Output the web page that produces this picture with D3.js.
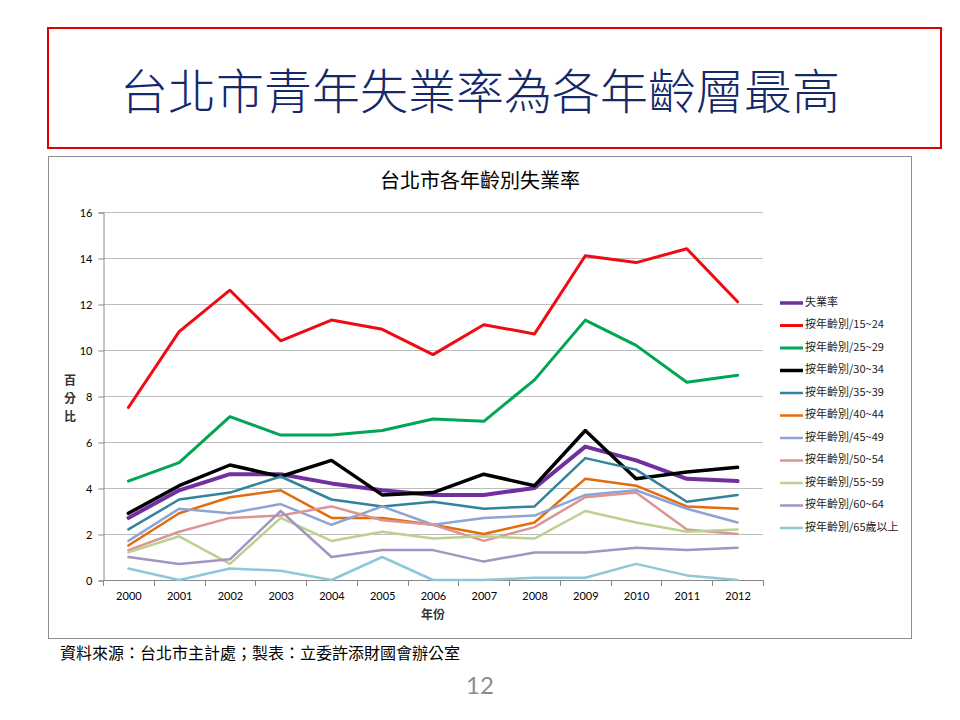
<!DOCTYPE html>
<html><head><meta charset="utf-8">
<script src="https://cdn.jsdelivr.net/npm/d3@7"></script>
<style>
html,body{margin:0;padding:0;background:#fff;}
svg{display:block;}
</style></head>
<body>
<svg id="c" width="960" height="720"></svg>
<script>
const years = ["2000","2001","2002","2003","2004","2005","2006","2007","2008","2009","2010","2011","2012"];
const seriesNames = ["失業率","按年齡別/15~24","按年齡別/25~29","按年齡別/30~34","按年齡別/35~39","按年齡別/40~44","按年齡別/45~49","按年齡別/50~54","按年齡別/55~59","按年齡別/60~64","按年齡別/65歲以上"];
const total   = [2.7,3.9,4.6,4.6,4.2,3.9,3.7,3.7,4.0,5.8,5.2,4.4,4.3];
const age1524 = [7.5,10.8,12.6,10.4,11.3,10.9,9.8,11.1,10.7,14.1,13.8,14.4,12.1];
const age2529 = [4.3,5.1,7.1,6.3,6.3,6.5,7.0,6.9,8.7,11.3,10.2,8.6,8.9];
const age3034 = [2.9,4.1,5.0,4.5,5.2,3.7,3.8,4.6,4.1,6.5,4.4,4.7,4.9];
const age3539 = [2.2,3.5,3.8,4.5,3.5,3.2,3.4,3.1,3.2,5.3,4.8,3.4,3.7];
const age4044 = [1.5,2.9,3.6,3.9,2.7,2.7,2.4,2.0,2.5,4.4,4.1,3.2,3.1];
const age4549 = [1.7,3.1,2.9,3.3,2.4,3.2,2.4,2.7,2.8,3.7,3.9,3.1,2.5];
const age5054 = [1.3,2.1,2.7,2.8,3.2,2.6,2.4,1.7,2.3,3.6,3.8,2.2,2.0];
const age5559 = [1.2,1.9,0.7,2.7,1.7,2.1,1.8,1.9,1.8,3.0,2.5,2.1,2.2];
const age6064 = [1.0,0.7,0.9,3.0,1.0,1.3,1.3,0.8,1.2,1.2,1.4,1.3,1.4];
const age65up = [0.5,0.0,0.5,0.4,0.0,1.0,0.0,0.0,0.1,0.1,0.7,0.2,0.0];
const yTicks = [0,2,4,6,8,10,12,14,16];

const allValues = [total,age1524,age2529,age3034,age3539,age4044,age4549,age5054,age5559,age6064,age65up];
const colors = ["#7030A0","#F00A12","#00A651","#000000","#31849B","#E46C0A","#8DA4D4","#D99694","#BBD18F","#A394C4","#8EC8D8"];
const widths = [4,3,3,3.5,2.5,2.5,2.5,2.5,2.5,2.5,2.5];

const svg = d3.select("#c");
const cjk = "'Noto Sans CJK TC','Noto Sans CJK SC',sans-serif";
const num = "Lato,'Open Sans',sans-serif";

// Title box
svg.append("rect").attr("x",48).attr("y",28).attr("width",893).attr("height",120)
  .attr("fill","#fff").attr("stroke","#E00000").attr("stroke-width",2);
svg.append("text").attr("x",480).attr("y",96).attr("text-anchor","middle").attr("dominant-baseline","middle")
  .attr("font-family",cjk).attr("font-weight",300).attr("font-size",48).attr("fill","#14286A")
  .text("台北市青年失業率為各年齡層最高");

// Chart box
svg.append("rect").attr("x",48.5).attr("y",156.5).attr("width",863).attr("height",482)
  .attr("fill","#fff").attr("stroke","#8c8c8c").attr("stroke-width",1);
svg.append("text").attr("x",480).attr("y",183).attr("text-anchor","middle").attr("dominant-baseline","middle")
  .attr("font-family",cjk).attr("font-size",20).attr("fill","#000").text("台北市各年齡別失業率");

const x = d3.scalePoint().domain(years).range([103,763]).padding(0.5);
const y = d3.scaleLinear().domain([0,16]).range([580,212]);

// gridlines
svg.append("g").selectAll("line").data(yTicks.filter(d=>d>0)).join("line")
  .attr("x1",103).attr("x2",763).attr("y1",d=>y(d)+0.5).attr("y2",d=>y(d)+0.5)
  .attr("stroke","#BDBDBD").attr("stroke-width",1);

// y axis
const yAxis = svg.append("g").attr("transform","translate(103.5,0.5)")
  .call(d3.axisLeft(y).tickValues(yTicks).tickSize(5).tickPadding(6));
yAxis.select(".domain").attr("stroke","#888");
yAxis.selectAll(".tick line").attr("stroke","#888");
yAxis.selectAll("text").attr("font-family",num).attr("font-size",11).attr("fill","#000");

// x axis
const xAxis = svg.append("g").attr("transform","translate(0,580.5)")
  .call(d3.axisBottom(x).tickSize(0).tickPadding(12));
xAxis.select(".domain").attr("stroke","#888").attr("d","M103,0H763");
xAxis.selectAll("text").attr("font-family",num).attr("font-size",11).attr("fill","#000");
const step = x.step();
svg.append("g").selectAll("line").data(d3.range(years.length+1)).join("line")
  .attr("x1",i=>Math.round(103+i*step)+0.5).attr("x2",i=>Math.round(103+i*step)+0.5)
  .attr("y1",580).attr("y2",586).attr("stroke","#888");

// axis titles
svg.append("text").attr("x",433).attr("y",616).attr("text-anchor","middle").attr("dominant-baseline","middle")
  .attr("font-family",cjk).attr("font-size",12).attr("font-weight",700).attr("fill","#333").text("年份");
const yl = svg.append("text").attr("font-family",cjk).attr("font-size",12).attr("font-weight",700).attr("fill","#333")
  .attr("text-anchor","middle");
["百","分","比"].forEach((c,i)=>yl.append("tspan").attr("x",70).attr("y",385+i*18).text(c));

// lines
const line = d3.line().x((d,i)=>x(years[i])).y(d=>y(d));
svg.append("g").selectAll("path").data(allValues).join("path")
  .attr("d",d=>line(d)).attr("fill","none")
  .attr("stroke",(d,i)=>colors[i]).attr("stroke-width",(d,i)=>widths[i])
  .attr("stroke-linejoin","round").attr("stroke-linecap","round");

// legend
const lg = svg.append("g").selectAll("g").data(seriesNames).join("g")
  .attr("transform",(d,i)=>`translate(780,${303+i*22.5})`);
lg.append("line").attr("x1",0).attr("x2",23).attr("y1",0).attr("y2",0)
  .attr("stroke",(d,i)=>colors[i]).attr("stroke-width",(d,i)=>Math.min(widths[i],3.5));
lg.append("text").attr("x",25).attr("y",0).attr("dominant-baseline","middle")
  .attr("font-family",cjk).attr("font-size",11).attr("fill","#222").text(d=>d);

// source and page number
svg.append("text").attr("x",60).attr("y",655).attr("dominant-baseline","middle")
  .attr("font-family",cjk).attr("font-size",16).attr("fill","#000")
  .text("資料來源：台北市主計處；製表：立委許添財國會辦公室");
svg.append("text").attr("x",480).attr("y",688).attr("text-anchor","middle").attr("dominant-baseline","middle")
  .attr("font-family",num).attr("font-size",24).attr("fill","#8c8c8c").text("12");
</script>
</body></html>
